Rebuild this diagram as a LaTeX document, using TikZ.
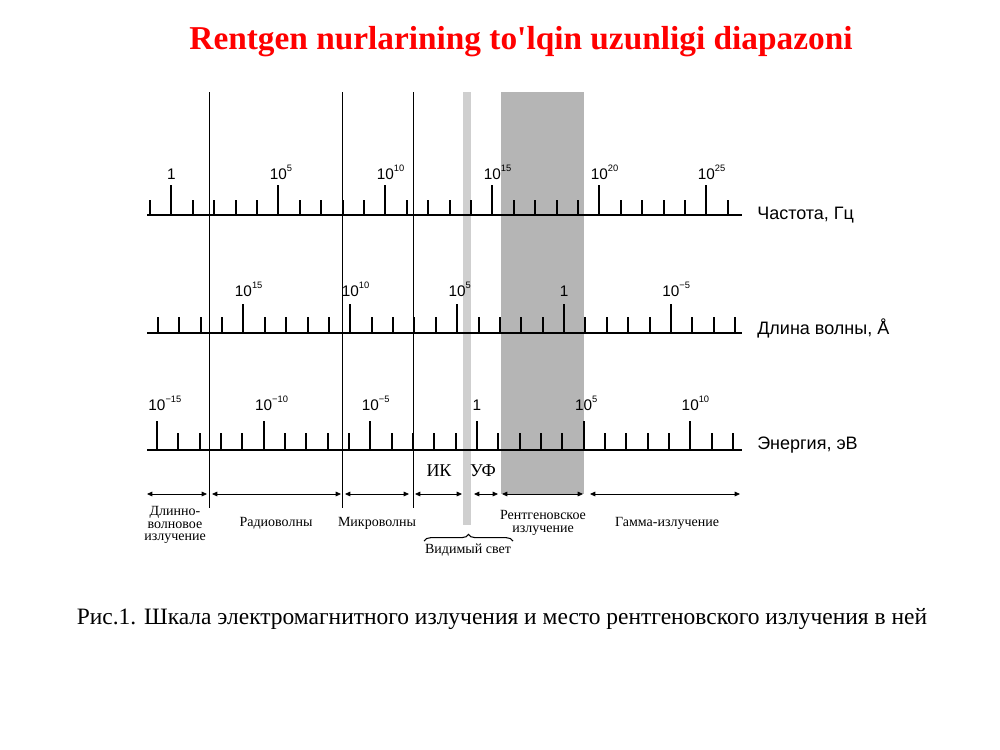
\documentclass[tikz,border=0pt]{standalone}
\usepackage{fontspec}
\setmainfont{Liberation Serif}
\newfontfamily\arialfont{Liberation Sans}
\usetikzlibrary{arrows.meta,decorations.pathreplacing}
\newcommand{\tenpow}[1]{10\rlap{\raisebox{0.9ex}{\fontsize{7}{7}\selectfont #1}}}

\begin{document}
\begin{tikzpicture}[
    x=0.75pt, y=-0.75pt,
    axis/.style={line width=1.4pt},
    tickmark/.style={line width=1.5pt},
    num/.style={font=\arialfont\fontsize{11.5}{12}\selectfont, anchor=base, inner sep=0pt},
    axlabel/.style={font=\arialfont\fontsize{13.5}{14}\selectfont, anchor=base west, inner sep=0pt},
    border/.style={line width=0.6pt},
    spanarrow/.style={line width=0.6pt, {Triangle[length=4pt,width=3.5pt]}-{Triangle[length=4pt,width=3.5pt]}},
    band/.style={font=\fontsize{10.5}{9.5}\selectfont, align=center, inner sep=0pt}
]
\useasboundingbox[fill=white] (0,0) rectangle (1000,750);

% Title
\node[font=\bfseries\fontsize{25}{28}\selectfont, text=red] (title) at (521,42)
    {Rentgen nurlarining to\textquotesingle lqin uzunligi diapazoni};

% Shaded regions
\fill[black!19] (463,92) rectangle (471,525);
\fill[black!29] (501,92) rectangle (584,494);

% Region borders
\foreach \n/\x in {1/209, 2/342, 3/413} {
    \coordinate (top\n) at (\x,92);
    \coordinate (bot\n) at (\x,508);
    \draw[border] (top\n) -- (bot\n);
}

% Frequency scale
\coordinate (fL) at (147,215);
\coordinate (fR) at (742,215);
\draw[axis] (fL) -- (fR);
\foreach \i in {0,...,27}
    \draw[tickmark] (150+21.4*\i,215) -- ++(0,-15);
\foreach \i/\lab in {1/1, 6/\tenpow{5}, 11/\tenpow{10}, 16/\tenpow{15}, 21/\tenpow{20}, 26/\tenpow{25}} {
    \draw[tickmark] (150+21.4*\i,215) -- ++(0,-30);
    \node[num] (f\i) at (150+21.4*\i,179) {\lab};
}
\node[axlabel] (freq) at (757,219.5) {Частота, Гц};

% Wavelength scale
\coordinate (wL) at (147,333);
\coordinate (wR) at (742,333);
\draw[axis] (wL) -- (wR);
\foreach \i in {0,...,27}
    \draw[tickmark] (158+21.37*\i,333) -- ++(0,-16);
\foreach \i/\lab in {4/\tenpow{15}, 9/\tenpow{10}, 14/\tenpow{5}, 19/1, 24/\tenpow{−5}} {
    \draw[tickmark] (158+21.37*\i,333) -- ++(0,-29);
    \node[num] (w\i) at (158+21.37*\i,296) {\lab};
}
\node[axlabel] (wave) at (757,334.5) {Длина волны, Å};

% Energy scale
\coordinate (eL) at (147,450);
\coordinate (eR) at (742,450);
\draw[axis] (eL) -- (eR);
\foreach \i in {0,...,27}
    \draw[tickmark] (157+21.33*\i,450) -- ++(0,-17);
\foreach \i/\lab in {0/\tenpow{−15}, 5/\tenpow{−10}, 10/\tenpow{−5}, 15/1, 20/\tenpow{5}, 25/\tenpow{10}} {
    \draw[tickmark] (157+21.33*\i,450) -- ++(0,-29);
    \node[num] (e\i) at (157+21.33*\i,410) {\lab};
}
\node[axlabel] (energy) at (757,449.5) {Энергия, эВ};

% Ranges
\foreach \n/\a/\b in {1/147/207, 2/212/341, 3/345/409, 4/415/462, 5/474/498, 6/502/583, 7/590/740} {
    \coordinate (s\n) at (\a,494);
    \coordinate (t\n) at (\b,494);
    \draw[spanarrow] (s\n) -- (t\n);
}
\node[font=\fontsize{13.5}{14}\selectfont] (ir) at (439,471) {ИК};
\node[font=\fontsize{13.5}{14}\selectfont] (uv) at (483,471) {УФ};

\node[band] (longw) at (175,525) {Длинно-\\волновое\\излучение};
\node[band] (radio) at (276,523) {Радиоволны};
\node[band] (micro) at (377,523) {Микроволны};
\node[band] (xray) at (543,523) {Рентгеновское\\излучение};
\node[band] (gamma) at (667,523) {Гамма-излучение};

% Visible light
\coordinate (vL) at (424,541);
\coordinate (vR) at (513,541);
\draw[line width=0.8pt, decorate, decoration={brace, amplitude=5pt}] (vL) -- (vR);
\node[font=\fontsize{10.5}{12}\selectfont] (visible) at (468,550) {Видимый свет};

% Caption
\node[font=\fontsize{17.6}{20}\selectfont, anchor=base] (caption) at (502,624)
    {Рис.1. Шкала электромагнитного излучения и место рентгеновского излучения в ней};
\end{tikzpicture}
\end{document}
